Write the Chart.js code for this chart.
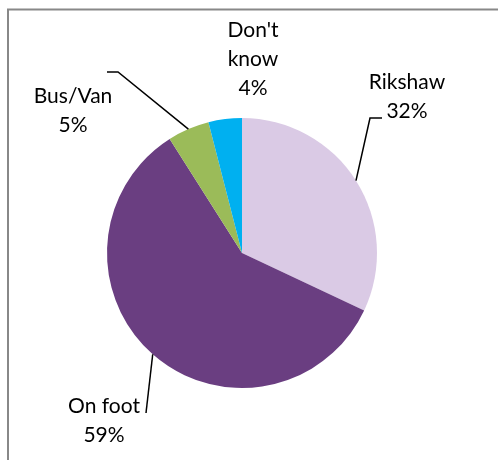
<!DOCTYPE html>
<html>
<head>
<meta charset="utf-8">
<script src="https://cdn.jsdelivr.net/npm/chart.js@4.4.1/dist/chart.umd.min.js"></script>
<style>
  html, body { margin: 0; padding: 0; background: #ffffff; }
  #wrap { width: 498px; height: 460px; position: relative; }
</style>
</head>
<body>
<div id="wrap"><canvas id="chart" width="498" height="460"></canvas></div>
<script>
// Mode of transport (share of respondents, %)
const categories = ['Rikshaw', 'On foot', 'Bus/Van', "Don't know"];
const shares = [32, 59, 5, 4];
const sliceColors = ['#DACAE5', '#6A3E81', '#9BBB59', '#00B0F0'];

// How each category name breaks across lines in its label
const labelNameLines = [['Rikshaw'], ['On foot'], ['Bus/Van'], ["Don't", 'know']];

// Label placement: text centre x, first baseline y, and leader-line elbow points
const labelPlacement = [
  { x: 407, y: 89, elbow: [[382, 118], [370, 118]] },
  { x: 104, y: 413, elbow: [[146, 413]] },
  { x: 73, y: 103, elbow: [[107, 72], [118, 72]] },
  { x: 253, y: 37, elbow: null }
];

const FONT = '21px Lato, "Open Sans", sans-serif';
const LINE_GAP = 29;

const framePlugin = {
  id: 'frame',
  beforeDraw(chart) {
    const ctx = chart.ctx;
    ctx.save();
    ctx.fillStyle = '#ffffff';
    ctx.fillRect(0, 0, chart.width, chart.height);
    ctx.strokeStyle = '#888888';
    ctx.lineWidth = 2;
    ctx.beginPath();
    ctx.moveTo(8, chart.height);
    ctx.lineTo(8, 9.5);
    ctx.lineTo(chart.width, 9.5);
    ctx.stroke();
    ctx.restore();
  }
};

const labelPlugin = {
  id: 'sliceLabels',
  afterDatasetsDraw(chart) {
    const ctx = chart.ctx;
    const meta = chart.getDatasetMeta(0);
    ctx.save();
    meta.data.forEach((arc, i) => {
      const place = labelPlacement[i];
      const p = arc.getProps(['x', 'y', 'startAngle', 'endAngle', 'outerRadius'], true);
      const mid = (p.startAngle + p.endAngle) / 2;
      const edgeX = p.x + Math.cos(mid) * p.outerRadius;
      const edgeY = p.y + Math.sin(mid) * p.outerRadius;
      if (place.elbow) {
        ctx.strokeStyle = '#000000';
        ctx.lineWidth = 1.5;
        ctx.beginPath();
        ctx.moveTo(place.elbow[0][0], place.elbow[0][1]);
        for (let k = 1; k < place.elbow.length; k++) {
          ctx.lineTo(place.elbow[k][0], place.elbow[k][1]);
        }
        ctx.lineTo(edgeX, edgeY);
        ctx.stroke();
      }
      const lines = labelNameLines[i].concat([shares[i] + '%']);
      ctx.fillStyle = '#000000';
      ctx.font = FONT;
      ctx.textAlign = 'center';
      ctx.textBaseline = 'alphabetic';
      lines.forEach((t, j) => ctx.fillText(t, place.x, place.y + j * LINE_GAP));
    });
    ctx.restore();
  }
};

new Chart(document.getElementById('chart'), {
  type: 'pie',
  data: {
    labels: categories,
    datasets: [{
      data: shares,
      backgroundColor: sliceColors,
      borderWidth: 0
    }]
  },
  options: {
    responsive: false,
    animation: false,
    layout: { padding: { left: 107, right: 121, top: 118, bottom: 72 } },
    plugins: {
      legend: { display: false },
      tooltip: { enabled: false }
    }
  },
  plugins: [framePlugin, labelPlugin]
});
</script>
</body>
</html>
